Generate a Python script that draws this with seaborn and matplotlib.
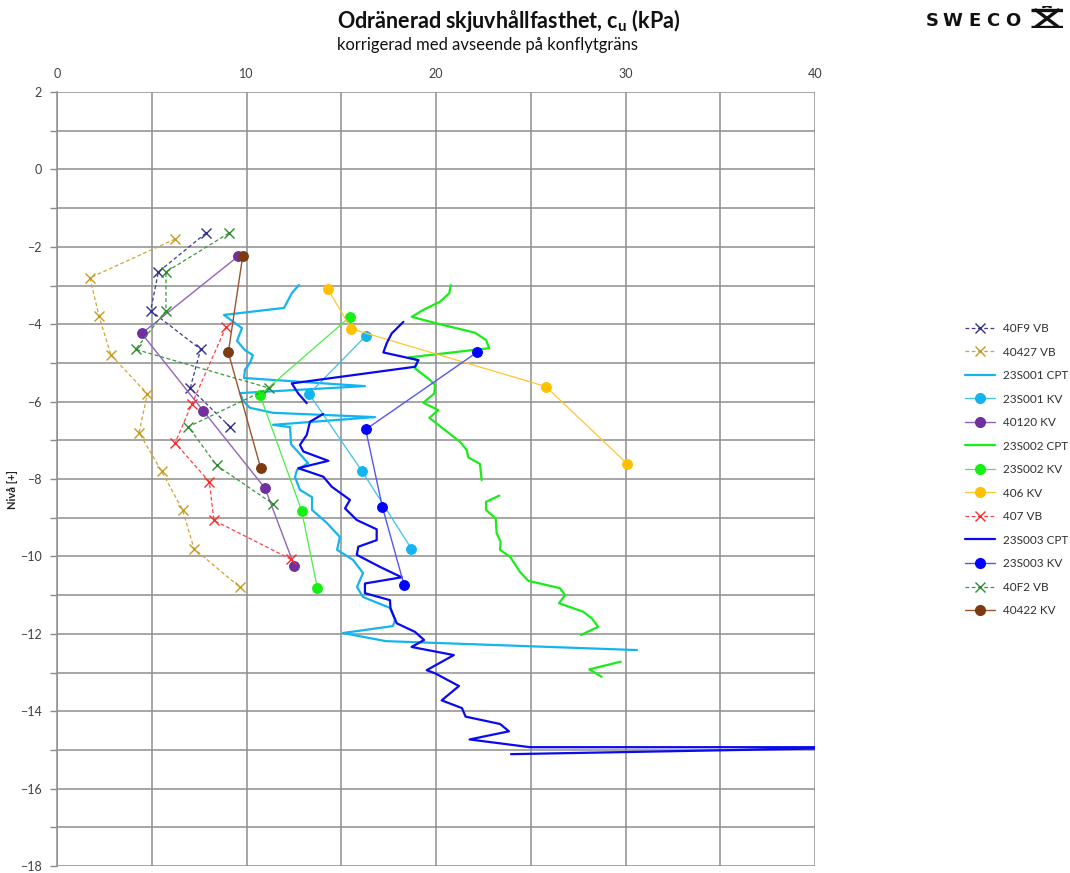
import numpy as np
import pandas as pd
import matplotlib
matplotlib.use("Agg")
import matplotlib.pyplot as plt
from matplotlib.lines import Line2D
import seaborn as sns

# ---------------- data ----------------
vb_40f9_x = [7.85, 5.35, 4.94, 7.58, 7.03, 9.13]
vb_40f9_y = [-1.65, -2.65, -3.65, -4.65, -5.65, -6.65]

vb_40427_x = [6.23, 1.74, 2.22, 2.85, 4.77, 4.33, 5.52, 6.63, 7.23, 9.66]
vb_40427_y = [-1.8, -2.8, -3.8, -4.8, -5.8, -6.8, -7.8, -8.8, -9.8, -10.8]

cpt_23s001_x = [12.77, 12.40, 11.98, 8.81, 9.76, 9.50, 9.92, 10.34, 10.18, 9.92,
                9.87, 16.25, 9.66, 9.82, 10.18, 11.40, 16.78, 11.40, 12.30, 12.35,
                13.25, 12.66, 12.56, 12.82, 13.46, 13.46, 14.25, 14.93, 14.78, 15.62,
                16.15, 15.83, 16.15, 17.57, 17.84, 17.73, 15.09, 17.36, 30.61]
cpt_23s001_y = [-2.99, -3.19, -3.58, -3.76, -4.10, -4.43, -4.67, -4.80, -5.00, -5.18,
                -5.39, -5.60, -5.78, -5.98, -6.16, -6.29, -6.40, -6.60, -6.66, -7.10,
                -7.59, -7.77, -7.95, -8.28, -8.47, -8.80, -9.14, -9.50, -9.83, -10.09,
                -10.43, -10.79, -11.05, -11.33, -11.64, -11.80, -11.98, -12.19, -12.42]

kv_23s001_x = [16.3, 13.3, 16.1, 18.7]
kv_23s001_y = [-4.3, -5.8, -7.8, -9.8]

kv_40120_x = [9.57, 4.47, 7.72, 10.98, 12.52]
kv_40120_y = [-2.24, -4.24, -6.24, -8.24, -10.24]

cpt_23s002_x = [20.78, 20.70, 20.21, 19.33, 18.72, 20.04, 22.06, 22.64, 22.81, 18.54,
                19.07, 18.89, 19.68, 19.95, 19.91, 19.33, 20.12, 19.65, 21.27, 21.62,
                21.70, 22.32, 22.41, np.nan,
                23.34, 22.64, 22.64, 23.15, 23.20, 23.41, 23.38, 23.91, 24.43, 24.87,
                26.54, 26.81, 26.49, 27.77, 28.22, 28.56, 27.65, np.nan,
                29.75, 28.09, 28.74]
cpt_23s002_y = [-2.99, -3.20, -3.42, -3.63, -3.81, -3.98, -4.22, -4.41, -4.62, -4.86,
                -4.93, -5.14, -5.44, -5.57, -5.79, -6.03, -6.22, -6.42, -7.04, -7.25,
                -7.44, -7.61, -8.03, np.nan,
                -8.43, -8.59, -8.80, -9.02, -9.40, -9.62, -9.83, -10.01, -10.40, -10.63,
                -10.82, -11.00, -11.21, -11.43, -11.60, -11.82, -12.03, np.nan,
                -12.72, -12.92, -13.11]

kv_23s002_x = [15.46, 10.71, 12.91, 13.74]
kv_23s002_y = [-3.81, -5.83, -8.82, -10.82]

kv_406_x = [14.3, 15.53, 25.79, 30.1]
kv_406_y = [-3.1, -4.12, -5.61, -7.61]

vb_407_x = [8.92, 7.11, 6.23, 8.04, 8.28, 12.33]
vb_407_y = [-4.07, -6.07, -7.07, -8.07, -9.07, -10.07]

cpt_23s003_x = [18.28, 17.66, 17.40, 17.22, 19.07, 18.89, 12.39, 12.73, 13.18, np.nan,
                14.05, 13.35, 13.18, 12.82, 13.00, 14.32, 12.73, 14.05, 14.50, 15.46,
                15.20, 15.82, 16.87, 16.87, 15.90, 15.82, 17.04, 18.19, 16.25, 16.25,
                17.57, 17.60, 17.93, 18.89, 19.37, 18.71, 20.94, 19.51, 19.95, 21.21,
                20.30, 21.37, 21.56, 23.38, 23.85, 21.77, 24.96, 44.0, 23.96]
cpt_23s003_y = [-3.94, -4.24, -4.49, -4.73, -4.93, -5.10, -5.53, -5.79, -6.04, np.nan,
                -6.32, -6.52, -6.86, -7.12, -7.29, -7.53, -7.72, -7.94, -8.20, -8.54,
                -8.76, -9.06, -9.30, -9.58, -9.75, -9.96, -10.27, -10.54, -10.70, -10.95,
                -11.13, -11.34, -11.73, -11.95, -12.16, -12.34, -12.55, -12.94, -13.02, -13.35,
                -13.72, -13.92, -14.14, -14.33, -14.52, -14.73, -14.93, -14.93, -15.11]

kv_23s003_x = [22.18, 16.29, 17.17, 18.31]
kv_23s003_y = [-4.72, -6.72, -8.72, -10.73]

vb_40f2_x = [9.06, 5.75, 5.75, 4.15, 11.2, 6.93, 8.43, 11.42]
vb_40f2_y = [-1.65, -2.65, -3.65, -4.65, -5.65, -6.65, -7.65, -8.65]

kv_40422_x = [9.8, 9.04, 10.75]
kv_40422_y = [-2.24, -4.73, -7.72]

x_ticks = [0, 10, 20, 30, 40]
y_ticks = [2, 0, -2, -4, -6, -8, -10, -12, -14, -16, -18]

title = "Odränerad skjuvhållfasthet, c$_{\\mathbf{u}}$ (kPa)"
subtitle = "korrigerad med avseende på konflytgräns"
logo_letters = ["S", "W", "E", "C", "O"]

# ---------------- style ----------------
sns.set_theme(style="white")
plt.rcParams["font.family"] = ["Lato", "DejaVu Sans"]
plt.rcParams["mathtext.fontset"] = "custom"
plt.rcParams["mathtext.rm"] = "Lato"
plt.rcParams["mathtext.bf"] = "Lato:bold"

DASH = (0, (3, 2))
series = [
    # label, x, y, line colour, lw, ls, marker, marker colour, ms
    ("40F9 VB", vb_40f9_x, vb_40f9_y, "#3B3B9C", 0.9, DASH, "x", "#30308C", 7),
    ("40427 VB", vb_40427_x, vb_40427_y, "#D2A530", 0.9, DASH, "x", "#C99A22", 7),
    ("23S001 CPT", cpt_23s001_x, cpt_23s001_y, "#14B4F0", 1.6, "-", None, None, 0),
    ("23S001 KV", kv_23s001_x, kv_23s001_y, "#3CC0F0", 0.9, "-", "o", "#14B4F0", 7),
    ("40120 KV", kv_40120_x, kv_40120_y, "#9263BD", 1.0, "-", "o", "#7030A0", 7),
    ("23S002 CPT", cpt_23s002_x, cpt_23s002_y, "#16EE16", 1.6, "-", None, None, 0),
    ("23S002 KV", kv_23s002_x, kv_23s002_y, "#44F044", 0.9, "-", "o", "#16EE16", 7),
    ("406 KV", kv_406_x, kv_406_y, "#FFC530", 0.9, "-", "o", "#FFC000", 7),
    ("407 VB", vb_407_x, vb_407_y, "#FF4040", 0.9, DASH, "x", "#FF2A2A", 7),
    ("23S003 CPT", cpt_23s003_x, cpt_23s003_y, "#0A0AF0", 1.6, "-", None, None, 0),
    ("23S003 KV", kv_23s003_x, kv_23s003_y, "#5555F5", 1.0, "-", "o", "#0000FF", 7),
    ("40F2 VB", vb_40f2_x, vb_40f2_y, "#359A35", 0.9, DASH, "x", "#2E8B2E", 7),
    ("40422 KV", kv_40422_x, kv_40422_y, "#9A5530", 1.0, "-", "o", "#7B3A10", 7),
]

fig = plt.figure(figsize=(10.7, 8.73), dpi=100)
ax = fig.add_axes([57 / 1070, 1 - 866 / 873, (815 - 57) / 1070, (866 - 92) / 873])

handles = []
for label, xs, ys, col, lw, ls, mk, mcol, ms in series:
    df = pd.DataFrame({"x": xs, "y": ys})
    df["seg"] = df["x"].isna().cumsum()
    df = df.dropna()
    for _, part in df.groupby("seg"):
        kw = dict(color=col, linewidth=lw, linestyle=ls)
        if mk:
            kw.update(marker=mk, markersize=ms, markerfacecolor=mcol,
                      markeredgecolor=mcol, markeredgewidth=1.0 if mk == "x" else 0.8)
        sns.lineplot(data=part, x="x", y="y", sort=False, estimator=None,
                     ax=ax, legend=False, clip_on=True, **kw)
    h = Line2D([], [], color=col, linewidth=lw, linestyle=ls)
    if mk:
        h.set_marker(mk)
        h.set_markersize(ms)
        h.set_markerfacecolor(mcol)
        h.set_markeredgecolor(mcol)
    handles.append((h, label))

ax.set_xlim(0, 40)
ax.set_ylim(-18, 2)
ax.xaxis.tick_top()
ax.set_xticks(x_ticks)
ax.set_xticks(np.arange(0, 41, 5), minor=True)
ax.set_yticks(y_ticks)
ax.set_yticks(np.arange(-18, 2.5, 1), minor=True)
ax.tick_params(axis="x", which="both", length=0, labelsize=9, pad=9, colors="#404040")
ax.tick_params(axis="y", which="both", length=5, direction="out", width=1.0,
               color="#8C8C8C", labelsize=9, pad=6, labelcolor="#404040", left=True)
ax.grid(which="both", color="#8E8E8E", linewidth=1.1)
for s in ["top", "bottom", "right"]:
    ax.spines[s].set_visible(False)
ax.spines["left"].set_color("#8E8E8E")
ax.spines["left"].set_linewidth(1.1)
ax.set_xlabel("")
ax.set_ylabel("Nivå [+]", fontsize=8, fontweight="bold", color="#202020")
ax.yaxis.set_label_coords((18 - 57) / 758, (866 - 490) / 774)

leg = fig.legend([h for h, _ in handles], [l for _, l in handles],
                 loc="upper left", bbox_to_anchor=(965 / 1070, 1 - 323 / 873),
                 frameon=False, fontsize=8.5, labelspacing=1.06, handlelength=2.55,
                 handletextpad=0.68, borderpad=0, borderaxespad=0)
for t in leg.get_texts():
    t.set_color("#303030")

fig.text(337 / 1070, 1 - 20 / 873, title, fontsize=15.5, fontweight="bold",
         ha="left", va="center", color="#111111")
fig.text(337 / 1070, 1 - 45 / 873, subtitle, fontsize=12, ha="left", va="center",
         color="#111111")

# SWECO logo
letter_centers = [932.5, 952.5, 974.0, 992.5, 1012.5]
for ch, cx in zip(logo_letters, letter_centers):
    fig.text(cx / 1070, 1 - 21 / 873, ch, fontsize=13, fontweight="heavy",
             ha="center", va="center", color="#111111", family=["DejaVu Sans"])
lax = fig.add_axes([1031 / 1070, 1 - 28 / 873, 32 / 1070, 22 / 873])
lax.set_xlim(0, 1)
lax.set_ylim(0, 1)
lax.axis("off")
lw_logo = 2.4
k = "#111111"
lax.plot([0.0, 1.0], [0.82, 0.82], color=k, lw=lw_logo, solid_capstyle="butt")
lax.plot([0.38, 0.5, 0.62], [0.95, 1.0, 0.95], color=k, lw=1.6)
lax.plot([0.15, 0.85], [0.82, 0.05], color=k, lw=lw_logo)
lax.plot([0.85, 0.15], [0.82, 0.05], color=k, lw=lw_logo)
lax.plot([0.0, 1.0], [0.05, 0.05], color=k, lw=lw_logo, solid_capstyle="butt")

fig.savefig("out.png", dpi=100)
